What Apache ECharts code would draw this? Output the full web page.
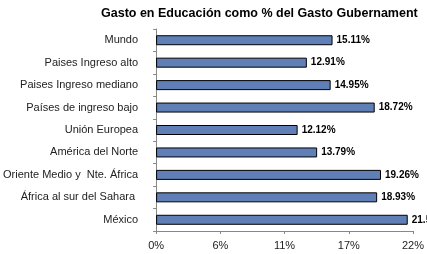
<!DOCTYPE html>
<html><head><meta charset="utf-8">
<script src="https://cdn.jsdelivr.net/npm/echarts@6/dist/echarts.min.js"></script>
<style>html,body{margin:0;padding:0;background:#fff}#c{width:427px;height:254px}</style>
</head><body><div id="c"></div>
<script>
const titleText = "Gasto en Educación como % del Gasto Gubernament";
const categories = ["Mundo","Paises Ingreso alto","Paises Ingreso mediano","Países de ingreso bajo","Unión Europea","América del Norte","Oriente Medio y  Nte. África","África al sur del Sahara ","México"];
const values = [15.11,12.91,14.95,18.72,12.12,13.79,19.26,18.93,21.55];
const chart = echarts.init(document.getElementById('c'));
chart.setOption({
  animation:false,
  title:{text:titleText,left:96,top:2,textStyle:{fontFamily:'Liberation Sans',fontWeight:'bold',fontSize:12.5,color:'#000'}},
  grid:{left:154,right:14,top:29,bottom:23,containLabel:false},
  xAxis:{type:'value',min:0,max:22,interval:5.5,
    axisLine:{show:true,lineStyle:{color:'#888',width:1}},
    axisTick:{show:true,length:3,lineStyle:{color:'#888'}},
    splitLine:{show:false},
    axisLabel:{formatter:v=>Math.round(v)+'%',fontFamily:'Liberation Sans',fontSize:11,color:'#222',margin:9}},
  yAxis:{type:'category',data:categories,inverse:true,
    axisLine:{show:true,lineStyle:{color:'#888',width:1}},
    axisTick:{show:true,length:3,lineStyle:{color:'#888'}},
    axisLabel:{fontFamily:'Liberation Sans',fontSize:11,color:'#222',margin:18}},
  series:[{type:'bar',data:values,barWidth:10,
    itemStyle:{color:'#5f7fb6',borderColor:'#000',borderWidth:1},
    label:{show:true,position:'right',distance:4,formatter:p=>p.value.toFixed(2)+'%',
      fontFamily:'Liberation Sans',fontWeight:'bold',fontSize:10,color:'#000'}}]
});
</script></body></html>
